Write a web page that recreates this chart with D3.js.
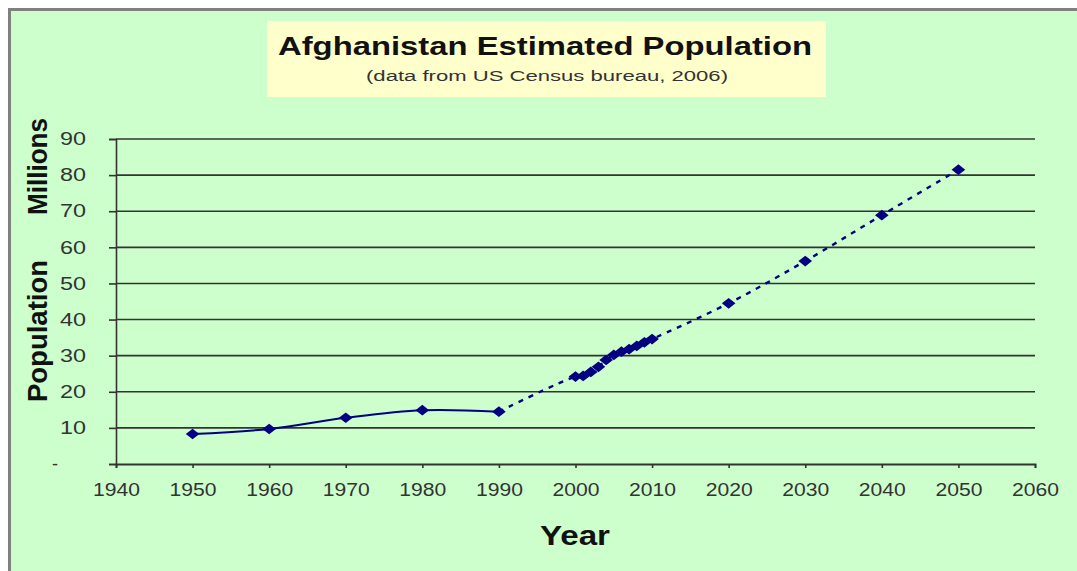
<!DOCTYPE html>
<html>
<head>
<meta charset="utf-8">
<script src="https://cdn.jsdelivr.net/npm/d3@7"></script>
<style>
  html, body { margin: 0; padding: 0; background: #ffffff; }
  svg { display: block; }
  text { font-family: "Liberation Sans", Arial, sans-serif; }
</style>
</head>
<body>
<svg id="chart" width="1077" height="571"></svg>
<script>
// ---- data ----
const histYears = [1950, 1960, 1970, 1980, 1990];
const histPop   = [8.3, 9.7, 12.8, 14.9, 14.5];

const projYears = [1990, 2000, 2001, 2002, 2003, 2004, 2005, 2006, 2007, 2008, 2009, 2010, 2020, 2030, 2040, 2050];
const projPop   = [14.5, 24.2, 24.4, 25.5, 26.9, 28.8, 30.2, 31.1, 31.8, 32.7, 33.7, 34.6, 44.5, 56.2, 68.9, 81.5];

const xTicks = [1940, 1950, 1960, 1970, 1980, 1990, 2000, 2010, 2020, 2030, 2040, 2050, 2060];
const yTicks = [0, 10, 20, 30, 40, 50, 60, 70, 80, 90];

const titleText = "Afghanistan Estimated Population";
const subtitleText = "(data from US Census bureau, 2006)";
const xLabel = "Year";
const yLabelA = "Population";
const yLabelB = "Millions";

// ---- drawing ----
const svg = d3.select("#chart");
const navy = "#000080";
const gridCol = "#333333";
const font = "\"Liberation Sans\", Arial, sans-serif";

// frame
svg.append("rect")
  .attr("x", 9.5).attr("y", 9.5)
  .attr("width", 1100).attr("height", 620)
  .attr("fill", "#CCFFCC")
  .attr("stroke", "#808080").attr("stroke-width", 3);

// title box
svg.append("rect")
  .attr("x", 267).attr("y", 21).attr("width", 559).attr("height", 76)
  .attr("fill", "#FFFFCC");
svg.append("text")
  .attr("x", 545).attr("y", 55)
  .attr("text-anchor", "middle")
  .attr("font-size", 26).attr("font-weight", "bold").attr("fill", "#111")
  .attr("textLength", 534).attr("lengthAdjust", "spacingAndGlyphs")
  .text(titleText);
svg.append("text")
  .attr("x", 547).attr("y", 81)
  .attr("text-anchor", "middle")
  .attr("font-size", 14).attr("fill", "#333")
  .attr("textLength", 362).attr("lengthAdjust", "spacingAndGlyphs")
  .text(subtitleText);

const x = d3.scaleLinear().domain([1940, 2060]).range([116, 1035]);
const y = d3.scaleLinear().domain([0, 90]).range([464, 139]);

// gridlines
svg.append("g").selectAll("line")
  .data(yTicks.filter(d => d > 0))
  .join("line")
  .attr("x1", x(1940)).attr("x2", x(2060))
  .attr("y1", d => y(d)).attr("y2", d => y(d))
  .attr("stroke", gridCol).attr("stroke-width", 1.6);

// y axis
const yAxis = svg.append("g")
  .attr("transform", `translate(${x(1940)},0)`)
  .call(d3.axisLeft(y).tickValues(yTicks).tickSize(7).tickPadding(23)
    .tickFormat(d => d === 0 ? "-" : d));
yAxis.select(".domain").attr("stroke", gridCol).attr("stroke-width", 1.6);
yAxis.selectAll(".tick line").attr("stroke", gridCol).attr("stroke-width", 1.6);
yAxis.selectAll(".tick text")
  .attr("font-size", 18).attr("fill", "#333")
  .attr("font-family", font);
yAxis.selectAll(".tick text").filter(d => d !== 0)
  .attr("textLength", 26).attr("lengthAdjust", "spacingAndGlyphs");
yAxis.selectAll(".tick text").filter(d => d === 0).attr("x", -58);

// x axis
const xAxis = svg.append("g")
  .attr("transform", `translate(0,${y(0)})`)
  .call(d3.axisBottom(x).tickValues(xTicks).tickSize(4).tickPadding(15)
    .tickFormat(d3.format("d")));
xAxis.select(".domain").attr("stroke", gridCol).attr("stroke-width", 1.8);
xAxis.selectAll(".tick line").attr("stroke", gridCol).attr("stroke-width", 1.6);
xAxis.selectAll(".tick text")
  .attr("font-size", 18).attr("fill", "#333")
  .attr("font-family", font)
  .attr("textLength", 47).attr("lengthAdjust", "spacingAndGlyphs");

// axis titles
svg.append("text")
  .attr("x", 575).attr("y", 545)
  .attr("text-anchor", "middle")
  .attr("font-size", 27).attr("font-weight", "bold").attr("fill", "#111")
  .attr("textLength", 70).attr("lengthAdjust", "spacingAndGlyphs")
  .text(xLabel);
svg.append("text")
  .attr("transform", "translate(47,331) rotate(-90)")
  .attr("text-anchor", "middle")
  .attr("font-size", 27).attr("font-weight", "bold").attr("fill", "#111")
  .attr("textLength", 142).attr("lengthAdjust", "spacingAndGlyphs")
  .text(yLabelA);
svg.append("text")
  .attr("transform", "translate(47,166.5) rotate(-90)")
  .attr("text-anchor", "middle")
  .attr("font-size", 27).attr("font-weight", "bold").attr("fill", "#111")
  .attr("textLength", 97).attr("lengthAdjust", "spacingAndGlyphs")
  .text(yLabelB);

// series
const hist = histYears.map((yr, i) => [yr, histPop[i]]);
const proj = projYears.map((yr, i) => [yr, projPop[i]]);

const line = d3.line().x(d => x(d[0])).y(d => y(d[1])).curve(d3.curveCatmullRom.alpha(0.5));

svg.append("path").datum(hist)
  .attr("d", line).attr("fill", "none")
  .attr("stroke", navy).attr("stroke-width", 2);
svg.append("path").datum(proj)
  .attr("d", line).attr("fill", "none")
  .attr("stroke", navy).attr("stroke-width", 2.4)
  .attr("stroke-dasharray", "5,6");

const diamond = d3.symbol().type(d3.symbolSquare).size(70);
svg.append("g").selectAll("path")
  .data(hist.concat(proj.slice(1)))
  .join("path")
  .attr("d", diamond)
  .attr("transform", d => `translate(${x(d[0])},${y(d[1])}) scale(1.15,0.9) rotate(45)`)
  .attr("fill", navy);
</script>
</body>
</html>
